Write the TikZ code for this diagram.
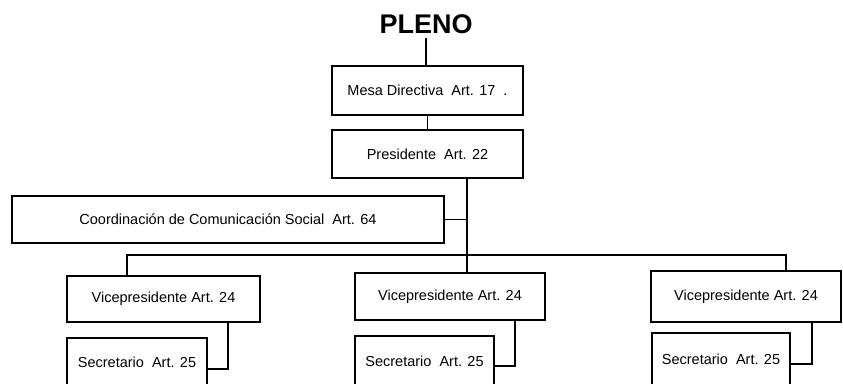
\documentclass[tikz,border=0pt]{standalone}
\usepackage{fontspec}
\setmainfont{Liberation Sans}
\begin{document}
\begin{tikzpicture}[x=1pt,y=-1pt,
  box/.style={draw=black,line width=1.6pt,inner sep=0pt,
    font=\fontsize{14.5}{17}\selectfont,text=black},
  link/.style={draw=black,line width=1.1pt}]
\useasboundingbox (0,0) rectangle (843,383);
\clip (0,0) rectangle (843,383);
% title
\node[font=\fontsize{27}{30}\bfseries,inner sep=0pt,anchor=base] (pleno) at (426,33) {PLENO};
% boxes
\node[box,minimum width=191pt,minimum height=49pt] (mesa) at (427.5,90.5) {Mesa Directiva\ \ Art. 17\ \ .};
\node[box,minimum width=191pt,minimum height=48pt] (pres) at (427.5,154) {Presidente\ \ Art. 22};
\node[box,minimum width=432pt,minimum height=47pt] (coord) at (228,219.5) {Coordinación de Comunicación Social\ \ Art. 64};
\node[box,minimum width=193pt,minimum height=46pt] (vice1) at (163.5,299) {Vicepresidente Art. 24};
\node[box,minimum width=190pt,minimum height=47pt] (vice2) at (450,296.5) {Vicepresidente Art. 24};
\node[box,minimum width=190pt,minimum height=51pt] (vice3) at (746,296.5) {Vicepresidente Art. 24};
\node[box,minimum width=140pt,minimum height=48pt] (sec1) at (137,362) {Secretario\ \ Art. 25};
\node[box,minimum width=139pt,minimum height=50pt] (sec2) at (424.5,361) {Secretario\ \ Art. 25};
\node[box,minimum width=138pt,minimum height=53pt] (sec3) at (721,359.5) {Secretario\ \ Art. 25};
% helper coordinates
\coordinate (top) at (426,38);
\coordinate (trunk) at (467,0);
\coordinate (bar) at (0,255);
\coordinate (left) at (127,0);
\coordinate (right) at (786,0);
\coordinate (c1) at (228,369);
\coordinate (c2) at (515,366);
\coordinate (c3) at (812,364);
% connectors
\draw[link] (top) -- (top |- mesa.north);
\draw[link] (mesa.south) -- (pres.north);
\draw[link] (pres.south -| trunk) -- (vice2.north -| trunk);
\draw[link] (coord.east) -- (coord.east -| trunk);
\draw[link] (vice1.north -| left) -- (bar -| left) -- (bar -| right) -- (vice3.north -| right);
\draw[link] (vice1.south -| c1) |- (c1 -| sec1.east);
\draw[link] (vice2.south -| c2) |- (c2 -| sec2.east);
\draw[link] (vice3.south -| c3) |- (c3 -| sec3.east);
\end{tikzpicture}
\end{document}
